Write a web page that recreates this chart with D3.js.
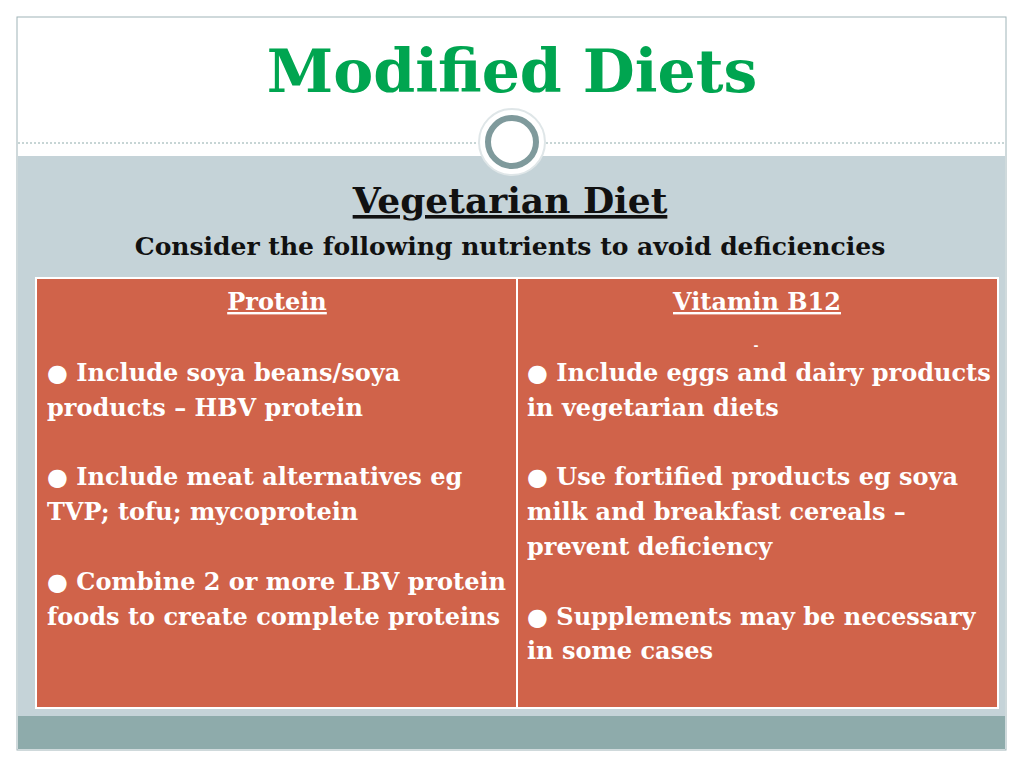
<!DOCTYPE html>
<html lang="en">
<head>
<meta charset="UTF-8">
<title>Modified Diets</title>
<script src="https://cdnjs.cloudflare.com/ajax/libs/d3/7.8.5/d3.min.js"></script>
<style>
  body { margin: 0; background: #fff; }
  svg { display: block; font-family: "DejaVu Serif", serif; font-weight: bold; }
</style>
</head>
<body>
<svg id="slide" width="1024" height="768"></svg>
<script>
const title = "Modified Diets";
const heading = "Vegetarian Diet";
const subheading = "Consider the following nutrients to avoid deficiencies";
const columns = ["Protein", "Vitamin B12"];
// each column: list of bullets, each bullet a list of wrapped lines
const proteinBullets = [
  ["● Include soya beans/soya", "products – HBV protein"],
  ["● Include meat alternatives eg", "TVP; tofu; mycoprotein"],
  ["● Combine 2 or more LBV protein", "foods to create complete proteins"]
];
const b12Bullets = [
  ["● Include eggs and dairy products", "in vegetarian diets"],
  ["● Use fortified products eg soya", "milk and breakfast cereals –", "prevent deficiency"],
  ["● Supplements may be necessary", "in some cases"]
];
const bullets = [proteinBullets, b12Bullets];

const svg = d3.select("#slide");

// slide background
svg.append("rect").attr("x", 17).attr("y", 17).attr("width", 989).attr("height", 733)
  .attr("fill", "#fff").attr("stroke", "#9fb4b8");
svg.append("rect").attr("x", 18).attr("y", 156).attr("width", 987).attr("height", 560).attr("fill", "#c5d3d8");
svg.append("rect").attr("x", 18).attr("y", 716).attr("width", 987).attr("height", 33).attr("fill", "#8eabab");
svg.append("line").attr("x1", 18).attr("x2", 1005).attr("y1", 143).attr("y2", 143)
  .attr("stroke", "#8eabab").attr("stroke-dasharray", "2,2");

// ornament
svg.append("circle").attr("cx", 512).attr("cy", 142).attr("r", 33).attr("fill", "#fff")
  .attr("stroke", "#dfe6e8").attr("stroke-width", 2);
svg.append("circle").attr("cx", 512).attr("cy", 142).attr("r", 24).attr("fill", "#fff")
  .attr("stroke", "#7f9a9c").attr("stroke-width", 6);

svg.append("text").attr("x", 512).attr("y", 92).attr("text-anchor", "middle")
  .attr("font-size", 60).attr("fill", "#00a550").text(title);
svg.append("text").attr("x", 510).attr("y", 213).attr("text-anchor", "middle")
  .attr("font-size", 36).attr("fill", "#111").attr("text-decoration", "underline").text(heading);
svg.append("text").attr("x", 510).attr("y", 255).attr("text-anchor", "middle")
  .attr("font-size", 25).attr("fill", "#111").text(subheading);

// table
const x = d3.scaleBand().domain(columns).range([37, 997]);
svg.append("rect").attr("x", 36).attr("y", 278).attr("width", 962).attr("height", 430)
  .attr("fill", "#d0634a").attr("stroke", "#fff").attr("stroke-width", 2);
svg.append("line").attr("x1", x(columns[1])).attr("x2", x(columns[1])).attr("y1", 278).attr("y2", 708)
  .attr("stroke", "#fff").attr("stroke-width", 2);

columns.forEach((c, i) => {
  const x0 = x(c);
  svg.append("text").attr("x", x0 + x.bandwidth() / 2).attr("y", 310).attr("text-anchor", "middle")
    .attr("font-size", 24).attr("fill", "#fff").attr("text-decoration", "underline").text(c);
  let row = 0;
  bullets[i].forEach(b => {
    b.forEach(line => {
      svg.append("text").attr("x", x0 + 10).attr("y", 381 + row * 34.8)
        .attr("font-size", 24).attr("fill", "#fff").text(line);
      row++;
    });
    row++;
  });
});
svg.append("text").attr("x", 756).attr("y", 350).attr("text-anchor", "middle")
  .attr("font-size", 12).attr("fill", "#fff").text("-");
</script>
</body>
</html>
